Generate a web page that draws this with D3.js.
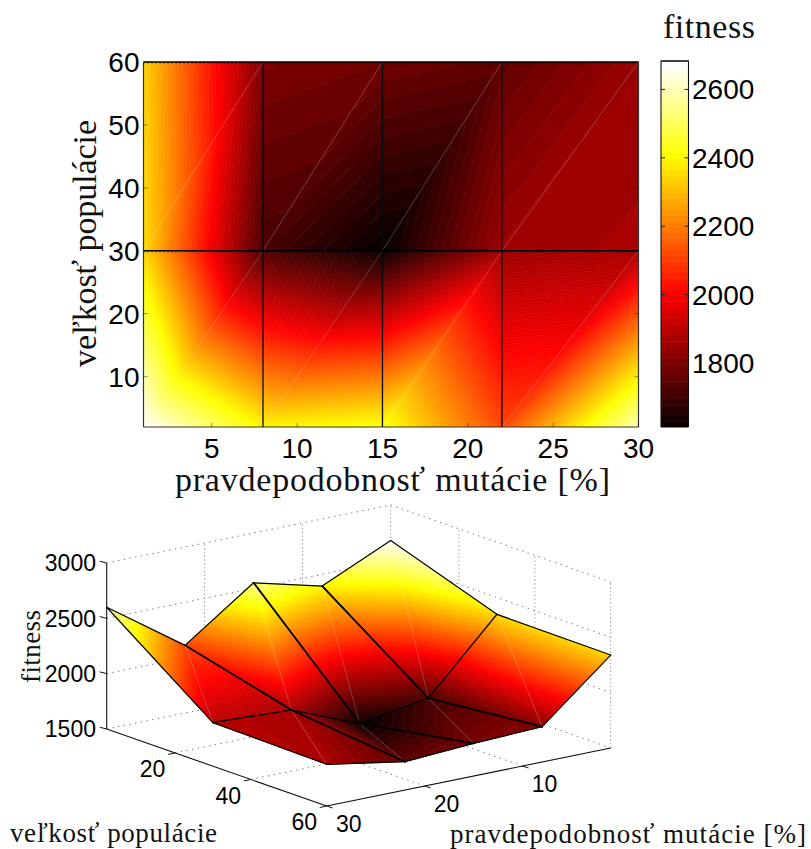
<!DOCTYPE html>
<html>
<head>
<meta charset="utf-8">
<script src="https://cdn.jsdelivr.net/npm/d3@7"></script>
<style>
html,body{margin:0;padding:0;background:#fff;}
svg{display:block;}
text{fill:#000;}
.num{font-family:"Liberation Sans",Arial,sans-serif;}
.lab{font-family:"Liberation Serif","Times New Roman",serif;fill:#111;}
</style>
</head>
<body>
<svg id="chart" width="811" height="849"></svg>
<script>
// ---------- data ----------
const mutationValues = [1, 8, 15, 22, 30];
const populationValues = [2, 30, 60];
const fitnessMapRows = [
  [2680, 2394, 2425, 2111, 2600],
  [2348, 1716, 1612, 1850, 1870],
  [2340, 1800, 1780, 1756, 1845]
];
const fitnessSurfaceRows = [
  [2680, 2394, 2550, 2111, 2600],
  [2348, 1716, 1612, 1863, 1893],
  [2340, 1819, 1795, 1756, 1877]
];
const mapXTicks = [5, 10, 15, 20, 25, 30];
const mapYTicks = [10, 20, 30, 40, 50, 60];
const colorbarTicks = [1800, 2000, 2200, 2400, 2600];
const surfaceZTicks = [1500, 2000, 2500, 3000];
const surfacePopTicks = [20, 40, 60];
const surfaceMutTicks = [10, 20, 30];
const colorDomain = [1613, 2683];
const xLabel = "pravdepodobnosť mutácie [%]";
const yLabel = "veľkosť populácie";
const zLabel = "fitness";

// ---------- colour ----------
const hot64 = d3.range(64).map(i => {
  const n = 24;
  const r = Math.min(1, (i + 1) / n);
  const g = i < n ? 0 : Math.min(1, (i - n + 1) / n);
  const b = i < 2 * n ? 0 : (i - 2 * n + 1) / 16;
  return d3.rgb(r * 255, g * 255, b * 255).formatHex();
});
const bandEdges = d3.range(65).map(i => colorDomain[0] + (colorDomain[1] - colorDomain[0]) * i / 64);
const hotSmooth = d3.scaleLinear()
  .domain(hot64.map((c, i) => colorDomain[0] + (colorDomain[1] - colorDomain[0]) * i / 63))
  .range(hot64).interpolate(d3.interpolateRgb).clamp(true);

// Clip a triangle [{x,y,v}] to a value band; returns polygon
function clipHalf(poly, limit, keepAbove) {
  const out = [];
  poly.forEach((a, i) => {
    const b = poly[(i + 1) % poly.length];
    const ina = keepAbove ? a.v >= limit : a.v <= limit;
    const inb = keepAbove ? b.v >= limit : b.v <= limit;
    if (ina) out.push(a);
    if (ina !== inb) {
      const t = (limit - a.v) / (b.v - a.v);
      out.push({x: a.x + t * (b.x - a.x), y: a.y + t * (b.y - a.y), v: limit});
    }
  });
  return out;
}
function triangleBands(tri, levels) {
  const res = [];
  const step = (colorDomain[1] - colorDomain[0]) / levels;
  d3.range(levels).forEach(k => {
    const lo = k === 0 ? -Infinity : colorDomain[0] + k * step;
    const hi = k === levels - 1 ? Infinity : colorDomain[0] + (k + 1) * step;
    let p = tri;
    if (isFinite(lo)) p = clipHalf(p, lo, true);
    if (p.length && isFinite(hi)) p = clipHalf(p, hi, false);
    if (p.length >= 3) res.push({c: levels === 64 ? hot64[k] : hotSmooth(colorDomain[0] + (k + .5) * step), p});
  });
  return res;
}
const polyLine = d3.line().x(d => d.x).y(d => d.y);
function drawTriangle(g, tri, levels) {
  g.append("g").selectAll("path").data(triangleBands(tri, levels)).join("path")
    .attr("d", d => polyLine(d.p) + "Z")
    .attr("fill", d => d.c)
    .attr("stroke", d => d.c)
    .attr("stroke-width", 0.7)
    .attr("stroke-linejoin", "round");
}
function cellTriangles(proj, rows, i, j) {
  const V = (a, b) => Object.assign(proj(mutationValues[a], populationValues[b], rows[b][a]), {v: rows[b][a]});
  return {
    a: V(i, j), b: V(i + 1, j), c: V(i + 1, j + 1), d: V(i, j + 1)
  };
}

const svg = d3.select("#chart");

// ---------- top: fitness map ----------
const mapX = d3.scaleLinear().domain([1, 30]).range([143.5, 638.5]);
const mapY = d3.scaleLinear().domain([2, 60]).range([427, 62]);
const topG = svg.append("g");
const mapProj = (x, y) => ({x: mapX(x), y: mapY(y)});

svg.append("clipPath").attr("id", "mapClip").append("rect")
  .attr("x", mapX(1)).attr("y", mapY(60)).attr("width", mapX(30) - mapX(1)).attr("height", mapY(2) - mapY(60));
const mapFill = topG.append("g").attr("clip-path", "url(#mapClip)");

d3.range(mutationValues.length - 1).forEach(i => d3.range(populationValues.length - 1).forEach(j => {
  const q = cellTriangles(mapProj, fitnessMapRows, i, j);
  const levels = j === 0 ? 256 : 64;
  drawTriangle(mapFill, [q.a, q.b, q.c], levels);
  drawTriangle(mapFill, [q.a, q.c, q.d], levels);
}));
// diagonals
d3.range(mutationValues.length - 1).forEach(i => d3.range(populationValues.length - 1).forEach(j => {
  mapFill.append("line")
    .attr("x1", mapX(mutationValues[i])).attr("y1", mapY(populationValues[j]))
    .attr("x2", mapX(mutationValues[i + 1])).attr("y2", mapY(populationValues[j + 1]))
    .attr("stroke", "#fff").attr("stroke-opacity", 0.27).attr("stroke-width", 0.8);
}));
// mesh lines
mutationValues.slice(1, -1).forEach(v => {
  topG.append("line").attr("x1", mapX(v)).attr("x2", mapX(v)).attr("y1", mapY(60)).attr("y2", mapY(2))
    .attr("stroke", "#0a0a0a").attr("stroke-width", 1.3);
});
[30, 60].forEach(v => {
  topG.append("line").attr("x1", mapX(1)).attr("x2", mapX(30)).attr("y1", mapY(v)).attr("y2", mapY(v))
    .attr("stroke", "#000").attr("stroke-width", v === 30 ? 1.6 : 1.3);
  topG.append("line").attr("x1", mapX(1)).attr("x2", mapX(30)).attr("y1", mapY(v) + 1.1).attr("y2", mapY(v) + 1.1)
    .attr("stroke", "#000").attr("stroke-width", 1).attr("stroke-dasharray", "1 3").attr("stroke-opacity", .7);
});
// box
[[1, 2, 1, 60], [1, 2, 30, 2], [30, 2, 30, 60]].forEach(s => {
  topG.append("line").attr("x1", mapX(s[0])).attr("y1", mapY(s[1])).attr("x2", mapX(s[2])).attr("y2", mapY(s[3]))
    .attr("stroke", "#333").attr("stroke-width", 1.2);
});
// ticks
mapXTicks.forEach(t => {
  topG.append("line").attr("x1", mapX(t)).attr("x2", mapX(t)).attr("y1", mapY(2)).attr("y2", mapY(2) - 4)
    .attr("stroke", "#000").attr("stroke-opacity", .45);
  topG.append("text").attr("class", "num").attr("x", mapX(t)).attr("y", 458)
    .attr("text-anchor", "middle").attr("font-size", 28).text(t);
});
mapYTicks.forEach(t => {
  topG.append("line").attr("x1", mapX(1)).attr("x2", mapX(1) + 4).attr("y1", mapY(t)).attr("y2", mapY(t))
    .attr("stroke", "#000").attr("stroke-opacity", .45);
  topG.append("line").attr("x1", mapX(30)).attr("x2", mapX(30) - 4).attr("y1", mapY(t)).attr("y2", mapY(t))
    .attr("stroke", "#000").attr("stroke-opacity", .45);
  topG.append("text").attr("class", "num").attr("x", 139.5).attr("y", mapY(t)).attr("dy", ".358em")
    .attr("text-anchor", "end").attr("font-size", 28).text(t);
});
topG.append("text").attr("class", "lab").attr("x", 175).attr("y", 491)
  .attr("font-size", 34).attr("textLength", 435).attr("lengthAdjust", "spacing").text(xLabel);
topG.append("text").attr("class", "lab")
  .attr("transform", "translate(96,367) rotate(-90)")
  .attr("font-size", 34).attr("textLength", 247).attr("lengthAdjust", "spacing").text(yLabel);

// ---------- colour bar ----------
const barY = d3.scaleLinear().domain(colorDomain).range([427, 61]);
const bar = svg.append("g");
bar.selectAll("rect").data(hot64).join("rect")
  .attr("x", 661).attr("width", 27.5)
  .attr("y", (d, i) => barY(bandEdges[i + 1]))
  .attr("height", (d, i) => barY(bandEdges[i]) - barY(bandEdges[i + 1]) + 0.5)
  .attr("fill", d => d);
bar.append("path").attr("d", `M661,427V61H688.5V427`).attr("fill", "none").attr("stroke", "#111").attr("stroke-width", 1.1);
bar.append("line").attr("x1", 661).attr("x2", 688.5).attr("y1", 61).attr("y2", 61).attr("stroke", "#333").attr("stroke-width", 1.6);
colorbarTicks.forEach(t => {
  bar.append("line").attr("x1", 661).attr("x2", 665).attr("y1", barY(t)).attr("y2", barY(t)).attr("stroke", "#222");
  bar.append("line").attr("x1", 688.5).attr("x2", 684.5).attr("y1", barY(t)).attr("y2", barY(t)).attr("stroke", "#222");
  bar.append("text").attr("class", "num").attr("x", 692).attr("y", barY(t)).attr("dy", ".358em")
    .attr("font-size", 28).text(t);
});
bar.append("text").attr("class", "lab").attr("x", 663).attr("y", 37.5)
  .attr("font-size", 34).attr("textLength", 92).attr("lengthAdjust", "spacing").text(zLabel);

// ---------- bottom: 3D surface ----------
// orthographic projection built from linear scales along each axis
const mutPx = d3.scaleLinear().domain([30, 1]).range([0, 284]);
const mutPy = d3.scaleLinear().domain([30, 1]).range([0, -58]);
const popPx = d3.scaleLinear().domain([2, 60]).range([0, 220]);
const popPy = d3.scaleLinear().domain([2, 60]).range([0, 77]);
const zPy = d3.scaleLinear().domain([1500, 3000]).range([0, -166]);
const surfProj = (m, p, z) => ({
  x: 106.7 + mutPx(m) + popPx(p),
  y: 729 + mutPy(m) + popPy(p) + zPy(z)
});
const bot = svg.append("g");
function seg3(a, b, attrs) {
  const P = surfProj(...a), Q = surfProj(...b);
  const l = bot.append("line").attr("x1", P.x).attr("y1", P.y).attr("x2", Q.x).attr("y2", Q.y);
  Object.entries(attrs).forEach(([k, v]) => l.attr(k, v));
  return l;
}
const dotH = {stroke: "#777", "stroke-width": 1, "stroke-dasharray": "1.4 4.4"};
const dotV = {stroke: "#999", "stroke-width": 1, "stroke-dasharray": "1.4 2.4"};
// back walls
surfaceZTicks.forEach(z => {
  seg3([30, 2, z], [1, 2, z], dotH);
  seg3([1, 2, z], [1, 60, z], dotH);
});
surfaceMutTicks.slice(0, 2).forEach(m => {
  seg3([m, 2, 1500], [m, 2, 3000], dotV);
  seg3([m, 2, 1500], [m, 60, 1500], dotH);
});
seg3([1, 2, 1500], [1, 2, 3000], dotV);
surfacePopTicks.forEach(p => {
  seg3([1, p, 1500], [1, p, 3000], dotV);
  if (p < 60) seg3([30, p, 1500], [1, p, 1500], dotH);
});
// axes
seg3([30, 2, 1500], [30, 2, 3000], {stroke: "#111", "stroke-width": 1.1});
seg3([30, 2, 1500], [30, 60, 1500], {stroke: "#111", "stroke-width": 1.1});
seg3([30, 60, 1500], [1, 60, 1500], {stroke: "#111", "stroke-width": 1.1});
// surface, painted back to front
const surfG = bot.append("g");
const meshLine = (A, B, w) => surfG.append("line")
  .attr("x1", A.x).attr("y1", A.y).attr("x2", B.x).attr("y2", B.y)
  .attr("stroke", "#000").attr("stroke-width", w).attr("stroke-linecap", "round");
d3.range(populationValues.length - 1).forEach(j => {
  d3.range(mutationValues.length - 1).forEach(i => {
    const q = cellTriangles(surfProj, fitnessSurfaceRows, i, j);
    const levels = j === 0 ? 256 : 64;
    drawTriangle(surfG, [q.a, q.c, q.d], levels);
    drawTriangle(surfG, [q.a, q.b, q.c], levels);
    surfG.append("line").attr("x1", q.a.x).attr("y1", q.a.y).attr("x2", q.c.x).attr("y2", q.c.y)
      .attr("stroke", "#fff").attr("stroke-opacity", .27).attr("stroke-width", .8);
    meshLine(q.a, q.b, 1.2);
    meshLine(q.d, q.c, 1.2);
    meshLine(q.a, q.d, i === 0 ? 1.2 : 1.7);
    meshLine(q.b, q.c, i === mutationValues.length - 2 ? 1.2 : 1.7);
  });
});
// tick marks + labels
surfaceZTicks.forEach(z => {
  const P = surfProj(30, 2, z);
  bot.append("line").attr("x1", P.x).attr("y1", P.y).attr("x2", P.x - 7).attr("y2", P.y - 1.8).attr("stroke", "#111");
  bot.append("text").attr("class", "num").attr("x", 96).attr("y", P.y).attr("dy", ".358em")
    .attr("text-anchor", "end").attr("font-size", 23).text(z);
});
surfacePopTicks.forEach(p => {
  const P = surfProj(30, p, 1500);
  bot.append("line").attr("x1", P.x).attr("y1", P.y).attr("x2", P.x - 7).attr("y2", P.y + 1.5).attr("stroke", "#111");
  bot.append("text").attr("class", "num").attr("x", P.x - 22.5).attr("y", P.y + 16).attr("dy", ".358em")
    .attr("text-anchor", "middle").attr("font-size", 23).text(p);
});
surfaceMutTicks.forEach(m => {
  const P = surfProj(m, 60, 1500);
  bot.append("line").attr("x1", P.x).attr("y1", P.y).attr("x2", P.x + 6).attr("y2", P.y + 2).attr("stroke", "#111");
  bot.append("text").attr("class", "num").attr("x", P.x + 22).attr("y", P.y + 17.5).attr("dy", ".358em")
    .attr("text-anchor", "middle").attr("font-size", 23).text(m);
});
bot.append("text").attr("class", "lab").attr("x", 10).attr("y", 841.5)
  .attr("font-size", 27).attr("textLength", 207).attr("lengthAdjust", "spacing").text(yLabel);
bot.append("text").attr("class", "lab").attr("x", 450).attr("y", 842.5)
  .attr("font-size", 27).attr("textLength", 356).attr("lengthAdjust", "spacing").text(xLabel);
bot.append("text").attr("class", "lab")
  .attr("transform", "translate(39.5,683) rotate(-90)")
  .attr("font-size", 27).attr("textLength", 73).attr("lengthAdjust", "spacing").text(zLabel);
</script>
</body>
</html>
